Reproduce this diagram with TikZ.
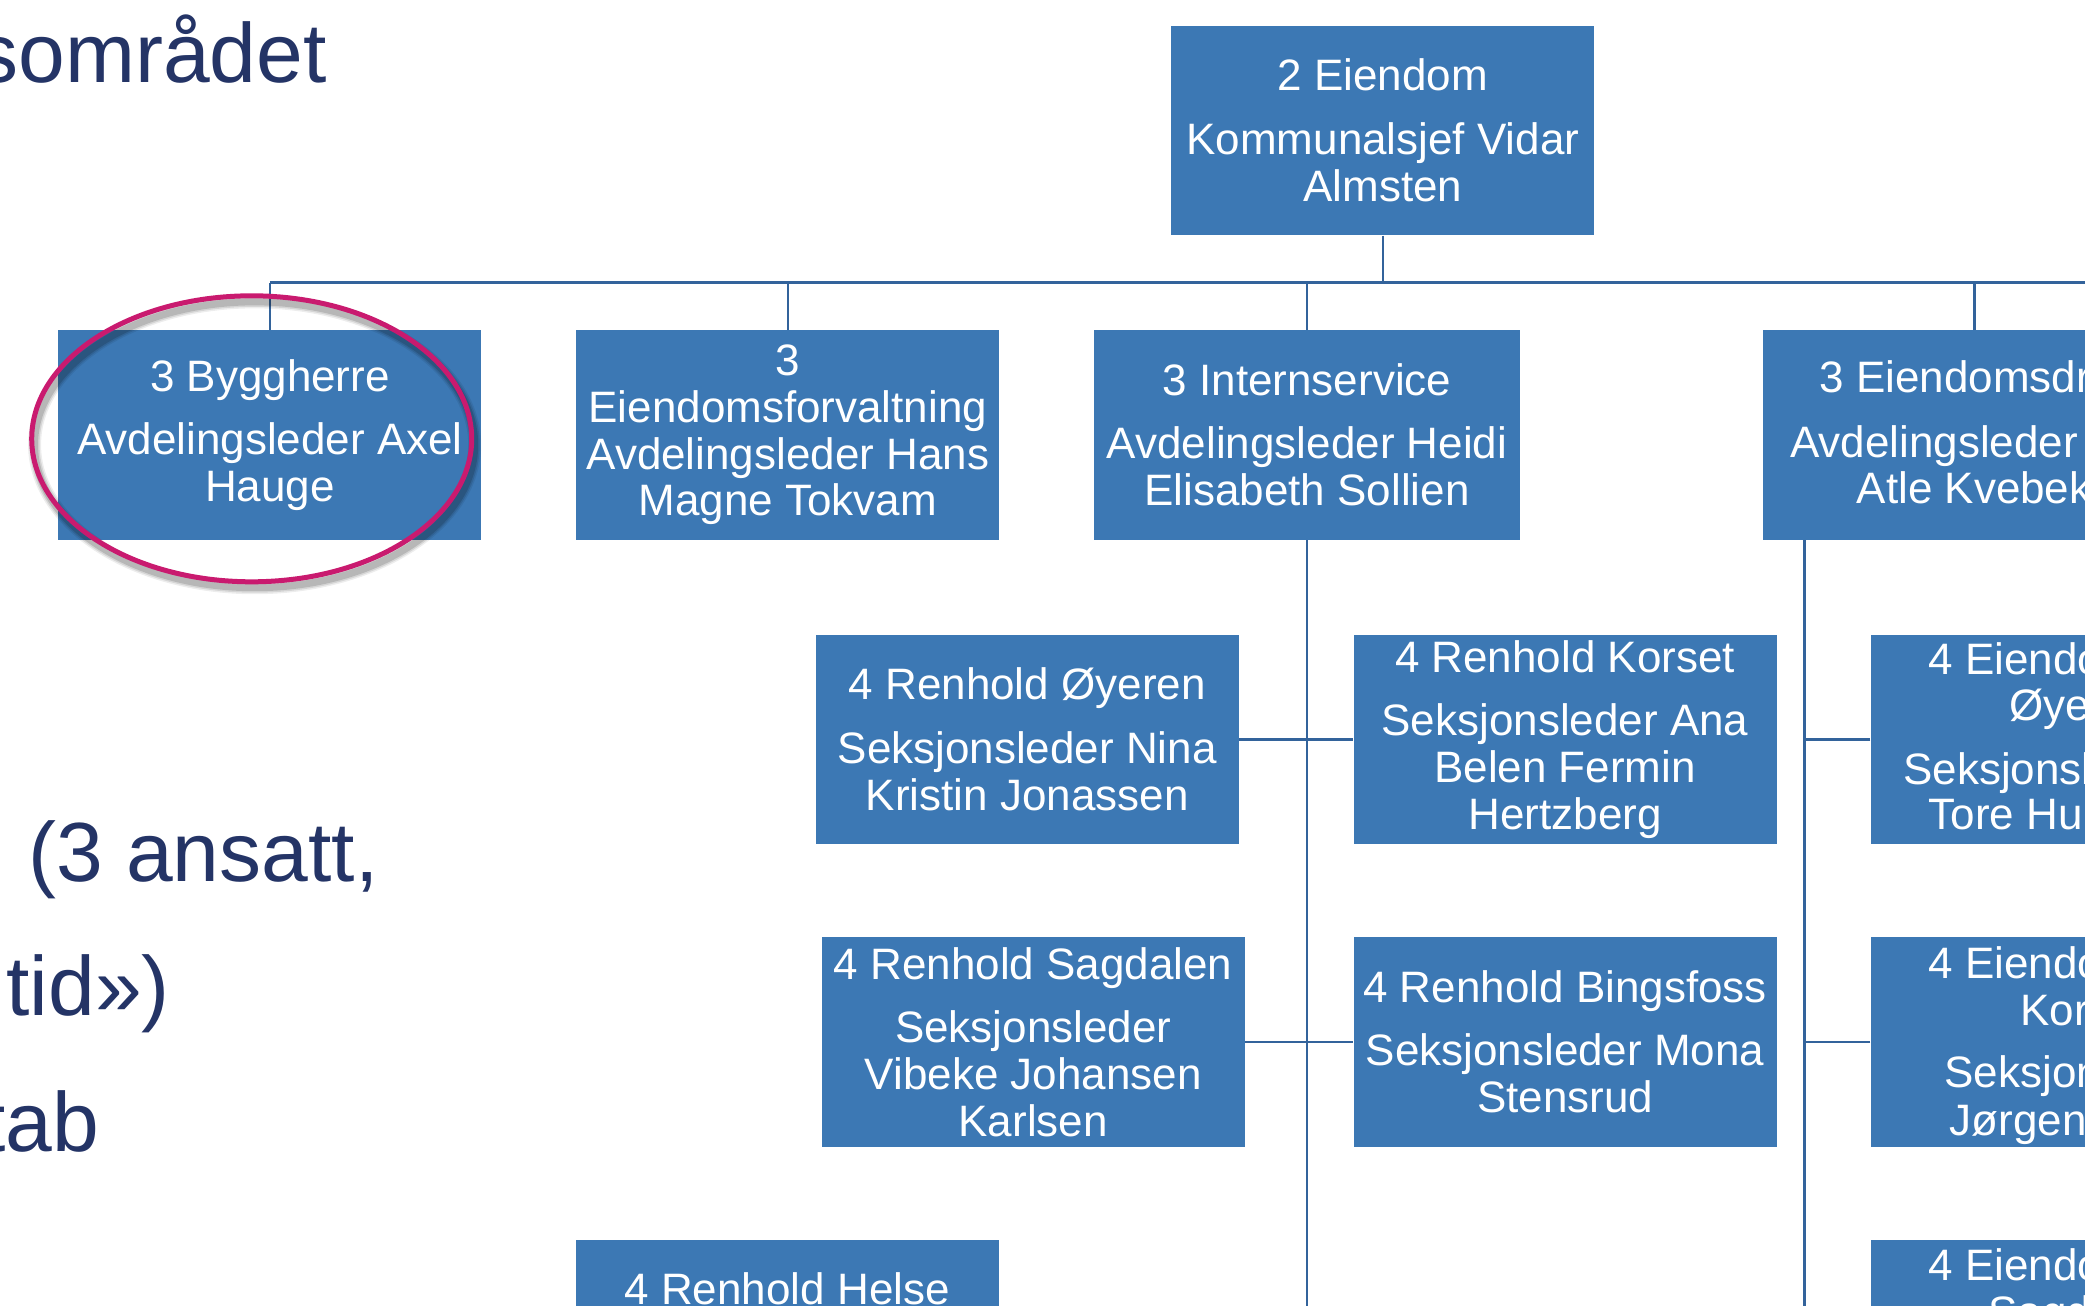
\documentclass[tikz,border=0pt]{standalone}
\usepackage{fontspec}
\setmainfont{Liberation Sans}
\usetikzlibrary{shapes.geometric}
\definecolor{boxblue}{HTML}{3C78B4}
\definecolor{linkblue}{HTML}{33639B}
\definecolor{navy}{HTML}{243466}
\definecolor{hilite}{HTML}{C91A6F}
\newcommand\orgfont{\fontsize{22}{23.4}\selectfont}
\newcommand\bigfont{\fontsize{42}{50}\selectfont}
\begin{document}
\begin{tikzpicture}[x=0.66486pt,y=-0.66486pt,
  orgbox/.style={fill=boxblue,text=white,inner sep=0pt,align=center,font=\orgfont,
                 minimum width=211.5pt,minimum height=104.8pt},
  link/.style={draw=linkblue,line width=1.3pt},
  side/.style={text=navy,font=\bigfont,inner sep=0pt},
  cuttext/.style={text=white,font=\orgfont,inner sep=0pt,anchor=base west},
  ring/.style={ellipse,inner sep=0pt,minimum width=220pt,minimum height=143pt}]
\useasboundingbox (0,0) rectangle (1568,982);
\clip (0,0) rectangle (1568,982);

% left-hand slide text
\node[side,anchor=base east] (t1) at (246,62) {sområdet};
\node[side,anchor=base west] (t2) at (21,663) {(3 ansatt,};
\node[side,anchor=base east] (t3) at (128,764) {tid»)};
\node[side,anchor=base east] (t4) at (75,866) {stab};

% level 2
\node[orgbox] (top) at (1040,98) {2 Eiendom\\[8.3pt]Kommunalsjef Vidar\\Almsten};

% level 3
\node[orgbox] (B1) at (203,327) {3 Byggherre\\[8.3pt]Avdelingsleder Axel\\Hauge};
\node[orgbox] (B2) at (592.5,327) {3\\Eiendomsforvaltning\\Avdelingsleder Hans\\Magne Tokvam};
\node[orgbox,minimum width=213pt] (B3) at (983,327) {3 Internservice\\[8.3pt]Avdelingsleder Heidi\\Elisabeth Sollien};
\node[orgbox] (B4) at (1485,327) {};
\node[cuttext] (b4a) at (1368,295) {3 Eiendomsdrift};
\node[cuttext] (b4b) at (1346,344) {Avdelingsleder};
\node[cuttext] (b4c) at (1396,379) {Atle Kvebekk};

% level 4 under Internservice
\node[orgbox] (R1) at (772.5,556) {4 Renhold Øyeren\\[8.3pt]Seksjonsleder Nina\\Kristin Jonassen};
\node[orgbox] (R2) at (1177,556) {4 Renhold Korset\\[8.3pt]Seksjonsleder Ana\\Belen Fermin\\Hertzberg};
\node[orgbox] (R3) at (777,783.5) {4 Renhold Sagdalen\\[8.3pt]Seksjonsleder\\Vibeke Johansen\\Karlsen};
\node[orgbox] (R4) at (1177,783.5) {4 Renhold Bingsfoss\\[8.3pt]Seksjonsleder Mona\\Stensrud};
\node[orgbox] (R5) at (592,1011.5) {};
\node[text=white,font=\orgfont,inner sep=0pt,anchor=base] (r5a) at (592,981) {4 Renhold Helse};

% level 4 under Eiendomsdrift
\node[orgbox] (E1) at (1566,556) {};
\node[cuttext] (e1a) at (1450,507) {4 Eiendomsdrift};
\node[cuttext] (e1b) at (1511,542) {Øyeren};
\node[cuttext] (e1c) at (1431,590) {Seksjonsleder};
\node[cuttext] (e1d) at (1450,624) {Tore Hu};
\node[orgbox] (E2) at (1566,783.5) {};
\node[cuttext] (e2a) at (1450,736) {4 Eiendomsdrift};
\node[cuttext] (e2b) at (1519,771) {Korset};
\node[cuttext] (e2c) at (1462,818) {Seksjonsleder};
\node[cuttext] (e2d) at (1466,854) {Jørgen};
\node[orgbox] (E3) at (1566,1011.5) {};
\node[cuttext] (e3a) at (1450,963) {4 Eiendomsdrift};
\node[cuttext] (e3b) at (1495,998) {Sagdalen};

% connectors
\coordinate (busL) at (203,212.5);
\coordinate (busR) at (1600,212.5);
\coordinate (v3end) at (983,1000);
\coordinate (v4end) at (1357,1000);
\draw[link] (top.south) -- (top.south |- busL);
\draw[link] (busL) -- (busR);
\foreach \b in {B1,B2,B3,B4} \draw[link] (\b.north) -- (\b.north |- busL);
\draw[link] (B3.south) -- (v3end);
\draw[link] (R1.east) -- (R2.west);
\draw[link] (R3.east) -- (R4.west);
\draw[link] (B4.south -| v4end) -- (v4end);
\foreach \e in {E1,E2,E3} \draw[link] (\e.west) -- (\e.west -| v4end);

% highlight ring with soft shadow
\foreach \w/\o in {6.5pt/0.07,5pt/0.10,3.5pt/0.14}
  \draw[black,line width=\w,opacity=\o] (191.5,334.5) ellipse [x radius=165.5,y radius=107.5];
\node[ring,draw=hilite,line width=2.5pt] (hl) at (189.3,330) {};
\end{tikzpicture}
\end{document}
